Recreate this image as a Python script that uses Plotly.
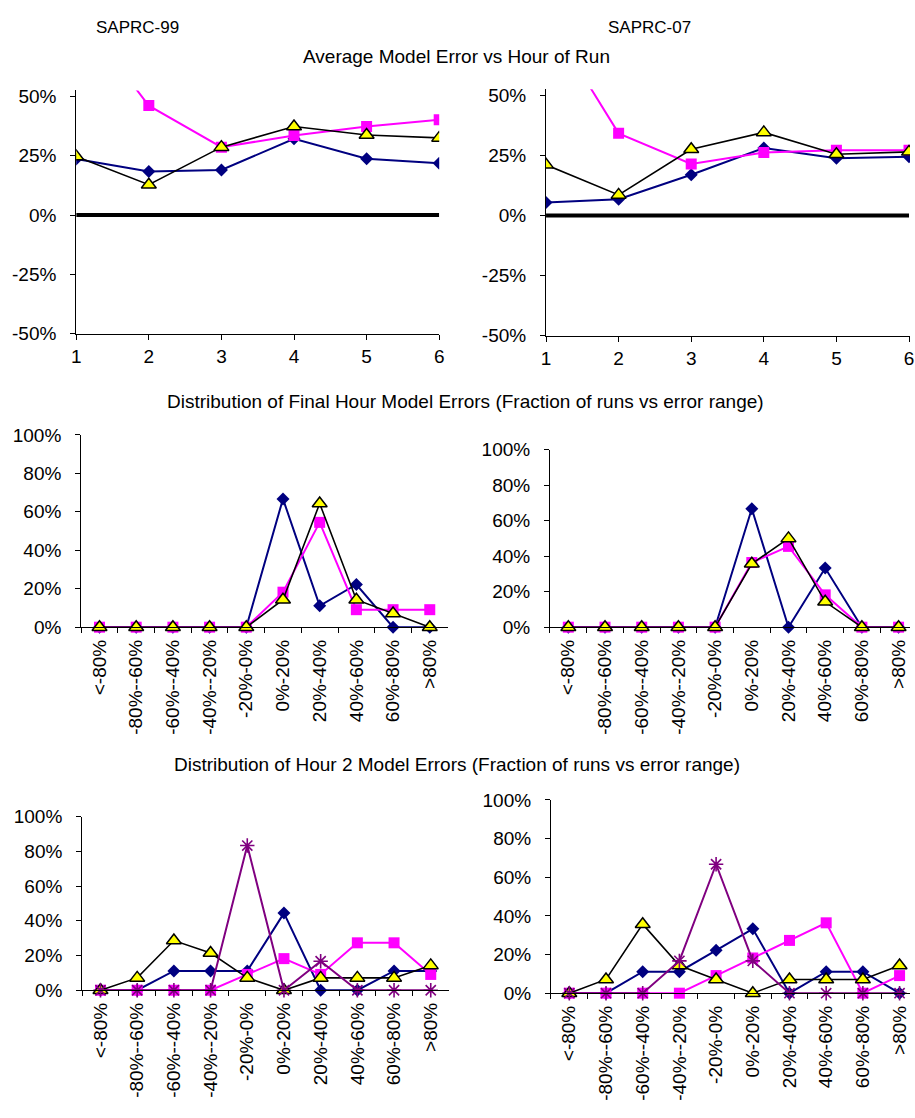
import plotly.graph_objects as go

# ---- data -------------------------------------------------------------
hours = [1, 2, 3, 4, 5, 6]

avg_err_99_navy = [23.6, 18.4, 19.0, 32.1, 23.7, 21.8]
avg_err_99_magenta = [86.0, 46.1, 28.6, 33.5, 37.3, 40.1]
avg_err_99_yellow = [24.7, 12.8, 28.6, 37.3, 33.7, 32.5]

avg_err_07_navy = [5.4, 6.8, 17.0, 28.1, 23.8, 24.5]
avg_err_07_magenta = [83.0, 34.2, 21.5, 26.2, 27.2, 27.2]
avg_err_07_yellow = [21.1, 8.6, 27.6, 34.6, 25.5, 26.5]

zero_ref = [0, 0, 0, 0, 0, 0]

error_ranges = ["<-80%", "-80%--60%", "-60%--40%", "-40%--20%", "-20%-0%",
                "0%-20%", "20%-40%", "40%-60%", "60%-80%", ">80%"]

final_99_navy = [0, 0, 0, 0, 0, 66.7, 11.1, 22.2, 0, 0]
final_99_magenta = [0, 0, 0, 0, 0, 18.2, 54.5, 9.1, 9.1, 9.1]
final_99_yellow = [0, 0, 0, 0, 0, 14.3, 64.3, 14.3, 7.1, 0]

final_07_navy = [0, 0, 0, 0, 0, 66.7, 0, 33.3, 0, 0]
final_07_magenta = [0, 0, 0, 0, 0, 36.4, 45.5, 18.2, 0, 0]
final_07_yellow = [0, 0, 0, 0, 0, 35.7, 50.0, 14.3, 0, 0]

hour2_99_navy = [0, 0, 11.1, 11.1, 11.1, 44.4, 0, 0, 11.1, 11.1]
hour2_99_magenta = [0, 0, 0, 0, 9.1, 18.2, 9.1, 27.3, 27.3, 9.1]
hour2_99_yellow = [0, 7.1, 28.6, 21.4, 7.1, 0, 7.1, 7.1, 7.1, 14.3]
hour2_99_purple = [0, 0, 0, 0, 83.3, 0, 16.7, 0, 0, 0]

hour2_07_navy = [0, 0, 11.1, 11.1, 22.2, 33.3, 0, 11.1, 11.1, 0]
hour2_07_magenta = [0, 0, 0, 0, 9.1, 18.2, 27.3, 36.4, 0, 9.1]
hour2_07_yellow = [0, 7.1, 35.7, 14.3, 7.1, 0, 7.1, 7.1, 7.1, 14.3]
hour2_07_purple = [0, 0, 0, 16.7, 66.7, 16.7, 0, 0, 0, 0]

avg_ticks = [-50, -25, 0, 25, 50]
frac_ticks = [0, 20, 40, 60, 80, 100]

# ---- styling ----------------------------------------------------------
W, H = 915, 1118
FONT = "Arial, 'Liberation Sans', sans-serif"
NAVY = "#000080"
MAGENTA = "#FF00FF"
PURPLE = "#800080"

STYLES = {
    "navy": dict(mode="lines+markers", line=dict(color=NAVY, width=2),
                 marker=dict(symbol="diamond", size=10, color=NAVY)),
    "magenta": dict(mode="lines+markers", line=dict(color=MAGENTA, width=2),
                    marker=dict(symbol="square", size=11, color=MAGENTA)),
    "yellow": dict(mode="lines+markers", line=dict(color="black", width=1.6),
                   marker=dict(symbol="triangle-up", size=13, color="#FFFF00",
                               line=dict(color="black", width=1.5))),
    "purple": dict(mode="lines+markers", line=dict(color=PURPLE, width=2),
                   marker=dict(symbol="asterisk-open", size=12,
                               line=dict(color=PURPLE, width=1.6))),
}


def xd(px):
    return px / W


def yd(py):
    return 1 - py / H


def pct(v):
    return f"{v}%"


fig = go.Figure()


def add(series, x, y, ax, clip=True):
    n = "" if ax == 1 else str(ax)
    fig.add_trace(go.Scatter(x=x, y=y, xaxis="x" + n, yaxis="y" + n,
                             showlegend=False, hoverinfo="skip",
                             cliponaxis=clip, **STYLES[series]))


# panels 1 / 2: average error vs hour of run
for ax, navy, mag, yel in [(1, avg_err_99_navy, avg_err_99_magenta, avg_err_99_yellow),
                           (2, avg_err_07_navy, avg_err_07_magenta, avg_err_07_yellow)]:
    n = "" if ax == 1 else str(ax)
    fig.add_trace(go.Scatter(x=hours, y=zero_ref, mode="lines",
                             line=dict(color="black", width=4),
                             xaxis="x" + n, yaxis="y" + n, showlegend=False,
                             hoverinfo="skip"))
    add("navy", hours, navy, ax)
    add("magenta", hours, mag, ax)
    add("yellow", hours, yel, ax)

# panels 3 / 4: final hour distribution
for ax, navy, mag, yel in [(3, final_99_navy, final_99_magenta, final_99_yellow),
                           (4, final_07_navy, final_07_magenta, final_07_yellow)]:
    add("navy", error_ranges, navy, ax, clip=False)
    add("magenta", error_ranges, mag, ax, clip=False)
    add("yellow", error_ranges, yel, ax, clip=False)

# panels 5 / 6: hour 2 distribution
for ax, navy, mag, yel, pur in [(5, hour2_99_navy, hour2_99_magenta, hour2_99_yellow, hour2_99_purple),
                                (6, hour2_07_navy, hour2_07_magenta, hour2_07_yellow, hour2_07_purple)]:
    add("navy", error_ranges, navy, ax, clip=False)
    add("magenta", error_ranges, mag, ax, clip=False)
    add("yellow", error_ranges, yel, ax, clip=False)
    add("purple", error_ranges, pur, ax, clip=False)

axis_common = dict(showline=True, linecolor="black", linewidth=1,
                   showgrid=False, zeroline=False, ticks="outside",
                   ticklen=5, tickcolor="black", tickwidth=1,
                   tickfont=dict(family=FONT, size=19, color="black"))

layout = {}

# hour-of-run panels: (axis, x0px, x1px, y_bottom_px(-50%), y_top_px(+50%))
for ax, x0, x1, yb, yt in [(1, 72, 439, 330, 88), (2, 547, 914, 332, 87)]:
    n = "" if ax == 1 else str(ax)
    per_pct = (yb - yt) / 100.0
    top = yt - 2.5 * per_pct
    unit = (x1 - x0) / 5.0
    right_px = min(W, x1 + 1) if ax == 2 else x1
    xmax = 1 + (right_px - x0) / unit
    layout["xaxis" + n] = dict(axis_common, domain=[xd(x0), xd(right_px)],
                               range=[1, xmax], anchor="y" + n,
                               tickmode="array", tickvals=hours,
                               ticktext=[str(h) for h in hours],
                               ticklabelstandoff=0)
    layout["yaxis" + n] = dict(axis_common, domain=[yd(yb), yd(top)],
                               range=[-50, 52.5], anchor="x" + n,
                               tickmode="array", tickvals=avg_ticks,
                               ticktext=[pct(v) for v in avg_ticks],
                               ticklabelstandoff=10)

# distribution panels: (axis, x0px, category step px, y0px(0%), y100px)
for ax, x0, step, y0, y100 in [(3, 77, 37.1, 629, 433), (4, 551, 37.1, 629, 448),
                               (5, 78, 37.1, 999, 822), (6, 552, 37.1, 1002, 805)]:
    n = str(ax)
    x1 = min(W, x0 + 10 * step)
    xmax = -0.5 + (x1 - x0) / step
    layout["xaxis" + n] = dict(axis_common, domain=[xd(x0), xd(x1)],
                               range=[-0.5, xmax], anchor="y" + n,
                               type="category", categoryorder="array",
                               categoryarray=error_ranges, tickson="boundaries",
                               tickangle=-90, ticklabelstandoff=4)
    layout["yaxis" + n] = dict(axis_common, domain=[yd(y0), yd(y100)],
                               range=[0, 100], anchor="x" + n,
                               tickmode="array", tickvals=frac_ticks,
                               ticktext=[pct(v) for v in frac_ticks],
                               ticklabelstandoff=10)


def label(text, cx, cy, size=19):
    return dict(text=text, x=xd(cx), y=yd(cy), xref="paper", yref="paper",
                xanchor="center", yanchor="middle", showarrow=False,
                font=dict(family=FONT, size=size, color="black"))


annotations = [
    label("SAPRC-99", 134, 18, 17),
    label("SAPRC-07", 652, 18, 17),
    label("Average Model Error vs Hour of Run", 456, 47),
    label("Distribution of Final Hour Model Errors (Fraction of runs vs error range)", 466, 399),
    label("Distribution of Hour 2 Model Errors (Fraction of runs vs error range)", 457, 769),
]

fig.update_layout(width=W, height=H, margin=dict(l=0, r=0, t=0, b=0),
                  paper_bgcolor="white", plot_bgcolor="white",
                  font=dict(family=FONT, size=19, color="black"),
                  annotations=annotations, **layout)

fig.write_html("out.html")
